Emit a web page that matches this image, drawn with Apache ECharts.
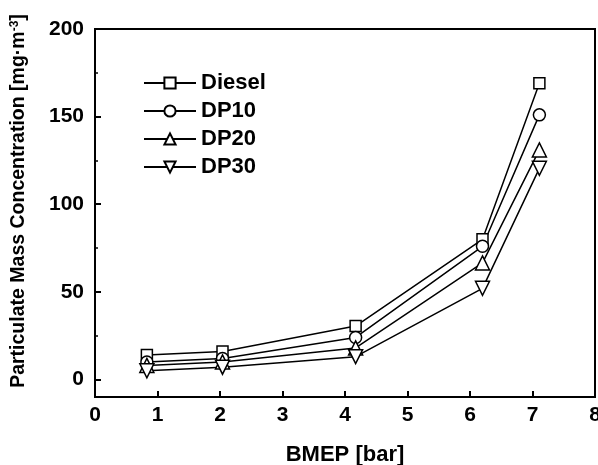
<!DOCTYPE html>
<html>
<head>
<meta charset="utf-8">
<script src="https://cdn.jsdelivr.net/npm/echarts@6/dist/echarts.min.js"></script>
<style>html,body{margin:0;padding:0;background:#fff}#c{width:598px;height:465px}</style>
</head>
<body>
<div id="c"></div>
<script>
var bmep = [0.83, 2.04, 4.17, 6.2, 7.11];
var seriesNames = ['Diesel', 'DP10', 'DP20', 'DP30'];
var diesel = [14, 16, 30.5, 80, 169];
var dp10 = [10, 12, 24, 76, 151];
var dp20 = [8, 10, 18, 66.5, 131];
var dp30 = [5, 7, 13, 52, 120.5];
var xTicks = [0, 1, 2, 3, 4, 5, 6, 7, 8];
var yMajor = [0, 50, 100, 150, 200];
var yMinor = [25, 75, 125, 175];

var symbols = ['rect', 'circle', 'triangle', 'path://M0,0 L10,0 L5,8.66 Z'];
var sizes = [11, 12, 14, 14];
var allData = [diesel, dp10, dp20, dp30];
var font = 'Liberation Sans, Arial, sans-serif';

function pairs(ys) { return ys.map(function (y, i) { return [bmep[i], y]; }); }

var series = seriesNames.map(function (n, i) {
  return {
    name: n, type: 'line', xAxisIndex: 0, yAxisIndex: 0,
    data: pairs(allData[i]),
    symbol: symbols[i], symbolSize: sizes[i],
    lineStyle: { color: '#000', width: 1.5 },
    itemStyle: { color: '#fff', borderColor: '#000', borderWidth: 1.5 },
    emphasis: { disabled: true },
    animation: false
  };
});

var chart = echarts.init(document.getElementById('c'));
chart.setOption({
  animation: false,
  grid: { left: 95, right: 3, top: 29, bottom: 68, show: true, borderColor: '#000', borderWidth: 2, backgroundColor: 'transparent',
    containLabel: false, outerBoundsMode: 'none' },
  legend: {
    left: 138, top: 67, orient: 'vertical', itemGap: 6, itemWidth: 52, itemHeight: 14,
    data: seriesNames,
    textStyle: { fontFamily: font, fontWeight: 'bold', fontSize: 22, color: '#000', padding: [0, 0, 0, 0] }
  },
  xAxis: {
    type: 'value', min: 0, max: 8, interval: 1,
    name: 'BMEP [bar]', nameLocation: 'middle', nameGap: 47,
    nameTextStyle: { fontFamily: font, fontWeight: 'bold', fontSize: 22, color: '#000' },
    axisLine: { onZero: false, lineStyle: { color: '#000', width: 2 } },
    axisTick: { inside: true, length: 6, lineStyle: { color: '#000', width: 2 } },
    axisLabel: { fontFamily: font, fontWeight: 'bold', fontSize: 21, color: '#000', margin: 8,
      customValues: xTicks },
    splitLine: { show: false }
  },
  yAxis: [{
    type: 'value', min: -10, max: 200,
    name: 'Particulate Mass Concentration [mg·m{sup|-3}]',
    nameLocation: 'middle', nameGap: 66,
    nameTextStyle: { fontFamily: font, fontWeight: 'bold', fontSize: 19.5, color: '#000', padding: [0, 0, 0, 24],
      rich: { sup: { fontFamily: font, fontWeight: 'bold', fontSize: 12, color: '#000', verticalAlign: 'top', lineHeight: 14 } } },
    axisLine: { onZero: false, lineStyle: { color: '#000', width: 2 } },
    axisTick: { inside: true, length: 6, lineStyle: { color: '#000', width: 2 }, customValues: yMajor },
    axisLabel: { fontFamily: font, fontWeight: 'bold', fontSize: 21, color: '#000', margin: 11, customValues: yMajor },
    splitLine: { show: false }
  }, {
    type: 'value', min: -10, max: 200, position: 'left', offset: 0,
    axisLine: { show: false },
    axisTick: { inside: true, length: 3, lineStyle: { color: '#000', width: 1.5 }, customValues: yMinor },
    axisLabel: { show: false, customValues: yMinor },
    splitLine: { show: false }
  }],
  series: series
});
</script>
</body>
</html>
